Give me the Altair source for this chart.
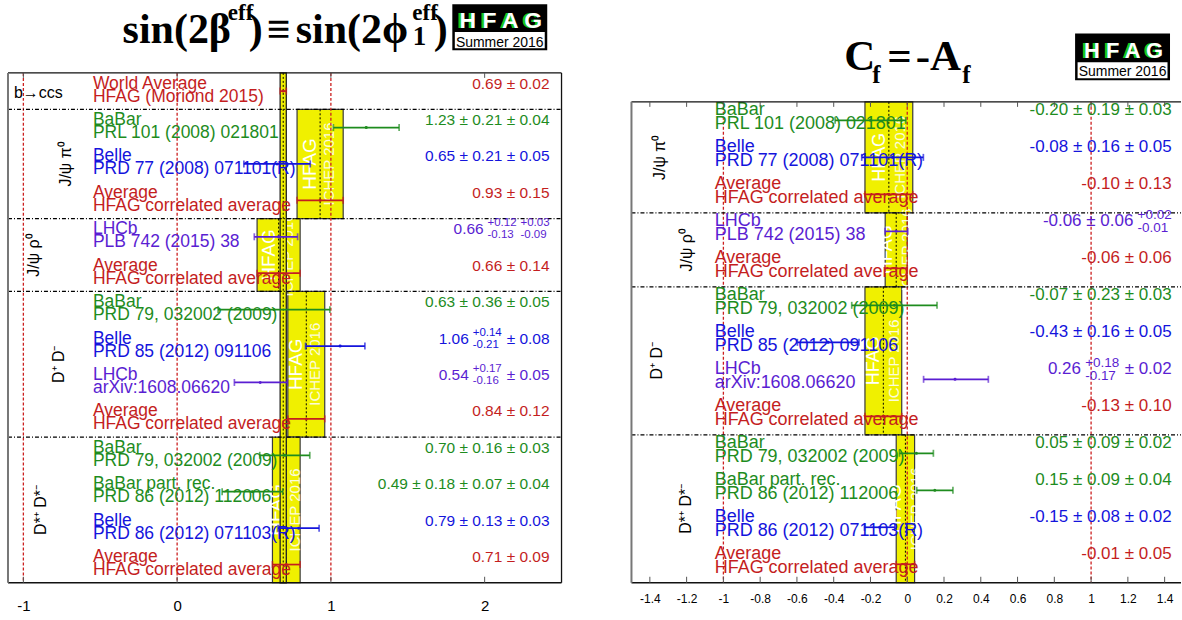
import math
import altair as alt
import pandas as pd

# ---------------- data: left panel  sin(2beta_eff) ----------------
L_sections = ["b→ccs", "J/ψ π⁰", "J/ψ ρ⁰", "D⁺ D⁻", "D*⁺ D*⁻"]
L_sizes = [1, 3, 2, 4, 4]
L_names = ["World Average", "BaBar", "Belle", "Average", "LHCb", "Average",
           "BaBar", "Belle", "LHCb", "Average",
           "BaBar", "BaBar part. rec.", "Belle", "Average"]
L_refs = ["HFAG (Moriond 2015)", "PRL 101 (2008) 021801", "PRD 77 (2008) 071101(R)",
          "HFAG correlated average", "PLB 742 (2015) 38", "HFAG correlated average",
          "PRD 79, 032002 (2009)", "PRD 85 (2012) 091106", "arXiv:1608.06620",
          "HFAG correlated average", "PRD 79, 032002 (2009)", "PRD 86 (2012) 112006",
          "PRD 86 (2012) 071103(R)", "HFAG correlated average"]
L_values = [0.69, 1.23, 0.65, 0.93, 0.66, 0.66, 0.63, 1.06, 0.54, 0.84, 0.70, 0.49, 0.79, 0.71]
L_errors = [[0.02], [0.21, 0.04], [0.21, 0.05], [0.15], [(0.12, 0.13), (0.03, 0.09)], [0.14],
            [0.36, 0.05], [(0.14, 0.21), 0.08], [(0.17, 0.16), 0.05], [0.12],
            [0.16, 0.03], [0.18, 0.07, 0.04], [0.13, 0.03], [0.09]]
L_ticks = [-1, 0, 1, 2]
L_reflines = [-1, 0, 1]

# ---------------- data: right panel  C_f = -A_f ----------------
R_sections = ["J/ψ π⁰", "J/ψ ρ⁰", "D⁺ D⁻", "D*⁺ D*⁻"]
R_sizes = [3, 2, 4, 4]
R_names = ["BaBar", "Belle", "Average", "LHCb", "Average",
           "BaBar", "Belle", "LHCb", "Average",
           "BaBar", "BaBar part. rec.", "Belle", "Average"]
R_refs = ["PRL 101 (2008) 021801", "PRD 77 (2008) 071101(R)", "HFAG correlated average",
          "PLB 742 (2015) 38", "HFAG correlated average",
          "PRD 79, 032002 (2009)", "PRD 85 (2012) 091106", "arXiv:1608.06620",
          "HFAG correlated average", "PRD 79, 032002 (2009)", "PRD 86 (2012) 112006",
          "PRD 86 (2012) 071103(R)", "HFAG correlated average"]
R_values = [-0.20, -0.08, -0.10, -0.06, -0.06, -0.07, -0.43, 0.26, -0.13, 0.05, 0.15, -0.15, -0.01]
R_errors = [[0.19, 0.03], [0.16, 0.05], [0.13], [0.06, (0.02, 0.01)], [0.06],
            [0.23, 0.03], [0.16, 0.05], [(0.18, 0.17), 0.02], [0.10],
            [0.09, 0.02], [0.09, 0.04], [0.08, 0.02], [0.05]]
R_ticks = [-1.4, -1.2, -1.0, -0.8, -0.6, -0.4, -0.2, 0.0, 0.2, 0.4, 0.6, 0.8, 1.0, 1.2, 1.4]
R_reflines = [-1, 0, 1]

# ---------------- styles ----------------
FONT = "Liberation Sans"
SERIF = "Liberation Serif"
COLORS = {"BaBar": "#1e8c1e", "BaBar part. rec.": "#1e8c1e", "Belle": "#1414dc",
          "LHCb": "#5a1ed2", "Average": "#c41e1e", "World Average": "#c41e1e"}
YELLOW = "#f0f000"
REDLINE = "#cc2020"
LOGO_GREEN = "#19c819"

L_cfg = dict(xdomain=[-1.1, 2.5], width=554, height=583, ytop=72.7,
             name_x=85, name_fs=17.5, name_dy=-7.5, ref_dy=5.5,
             val_right=542, val_fs=15.5, small_fs=11.5, val_dy=-7.5, stack_off=6,
             group_px=[6, 58, 26, 51, 33], group_rot=[False, True, True, True, True], group_fs=16,
             axis_fs=15, axis_pad=16, right_border=True,
             hfag_fs=19, ichep_fs=15, hfag_dy=-10, ichep_dy=9,
             title=[("sin(2β", 42, 114.7, 43), ("eff", 23, 220, 20), (")", 42, 241, 43),
                    ("≡", 42, 259, 43), ("sin(2ϕ", 42, 288, 43), ("1", 27, 405, 45),
                    ("eff", 23, 404.7, 20), (")", 42, 426, 43)],
             logo=dict(x1=444.7, x2=539.7, y1=4, y2=50, ysplit=31.7, hfag_fs=23, hfag_y=28,
                       summer_fs=14, summer_y=46.5))

R_cfg = dict(xdomain=[-1.5, 1.489], width=550, height=583, ytop=101.7,
             name_x=83.3, name_fs=18, name_dy=-10.5, ref_dy=4,
             val_right=540.7, val_fs=17, small_fs=13.5, val_dy=-10, stack_off=6.5,
             group_px=[29, 56, 26, 55], group_rot=[True, True, True, True], group_fs=16,
             axis_fs=12, axis_pad=11, right_border=False,
             hfag_fs=18, ichep_fs=15, hfag_dy=-9, ichep_dy=11,
             title=[("C", 43, 213, 70), ("f", 25, 241, 83), ("=", 43, 256, 70),
                    ("-A", 43, 284.5, 70), ("f", 25, 331, 83)],
             logo=dict(x1=444, x2=539, y1=33.3, y2=80, ysplit=62, hfag_fs=22, hfag_y=58,
                       summer_fs=14, summer_y=76))

ARIAL = {c: 0.556 for c in "0123456789"}
ARIAL.update({".": 0.278, " ": 0.278, "±": 0.584, "+": 0.584, "-": 0.333})


def tw(s, fs):
    return sum(ARIAL.get(c, 0.556) for c in s) * fs


def value_layout(val, errs, right, fs, sfs):
    pieces = []
    cur = f"{val:.2f}"
    for e in errs:
        if isinstance(e, tuple):
            pieces.append(("main", cur))
            cur = ""
            pieces.append(("stack", f"+{e[0]:.2f}", f"-{e[1]:.2f}"))
        else:
            cur += f" ± {e:.2f}"
    if cur:
        pieces.append(("main", cur))
    mains, stacks = [], []
    x = right
    for p in reversed(pieces):
        if p[0] == "main":
            mains.append((x, p[1].strip()))
            x -= tw(p[1], fs)
        else:
            w = max(tw(p[1], sfs), tw(p[2], sfs))
            x -= w
            stacks.append((x, p[1], p[2]))
            x -= 0.25 * fs
    return mains, stacks


def build_panel(sections, sizes, names, refs, values, errors, ticks, reflines, cfg):
    N = sum(sizes)
    x0, x1 = cfg["xdomain"]
    W, H = cfg["width"], cfg["height"]

    def px2x(p):
        return x0 + p / W * (x1 - x0)

    xs = alt.Scale(domain=[x0, x1], nice=False, zero=False)
    ys = alt.Scale(domain=[0, N], range=[cfg["ytop"], H], nice=False, zero=False)
    xaxis = alt.Axis(values=ticks, ticks=False, domain=False, grid=False,
                     labelFontSize=cfg["axis_fs"], labelPadding=cfg["axis_pad"],
                     labelFont=FONT, labelColor="black",
                     labelExpr="datum.value < 0 ? '-' + format(-datum.value, '~g') : format(datum.value, '~g')")

    def X(f):
        return alt.X(f, type="quantitative", scale=xs, axis=xaxis, title=None)

    def Y(f):
        return alt.Y(f, type="quantitative", scale=ys, axis=None, title=None)

    rows, bands, caps, mains, stacks, groups = [], [], [], [], [], []
    wa = None
    idx = 0
    seps = []
    for si, (s, n) in enumerate(zip(sections, sizes)):
        start = idx
        groups.append(dict(label=s, y=start + n / 2, x=px2x(cfg["group_px"][si]),
                           rot=cfg["group_rot"][si]))
        for k in range(n):
            nm, rf, v, er = names[idx], refs[idx], values[idx], errors[idx]
            up = math.sqrt(sum((e[0] if isinstance(e, tuple) else e) ** 2 for e in er))
            dn = math.sqrt(sum((e[1] if isinstance(e, tuple) else e) ** 2 for e in er))
            col = COLORS[nm]
            rows.append(dict(y=idx + 0.5, name=nm, ref=rf, val=v, lo=v - dn, hi=v + up, color=col))
            caps.append(dict(y=idx + 0.5, xc=v - dn, color=col))
            caps.append(dict(y=idx + 0.5, xc=v + up, color=col))
            if nm == "Average":
                bands.append(dict(lo=v - dn, hi=v + up, val=v, y1=start, y2=start + n, ym=start + n / 2))
            if nm == "World Average":
                wa = dict(lo=v - dn, hi=v + up, val=v, y1=0, y2=N)
            m, st = value_layout(v, er, cfg["val_right"], cfg["val_fs"], cfg["small_fs"])
            for (px, t) in m:
                mains.append(dict(y=idx + 0.5, xd=px2x(px), text=t, color=col))
            for (px, a, b) in st:
                stacks.append(dict(y=idx + 0.5, xd=px2x(px), top=a, bot=b, color=col))
            idx += 1
        if idx < N:
            seps.append(dict(y=idx, xa=x0, xb=x1))

    rdf = pd.DataFrame(rows)
    bdf = pd.DataFrame(bands)
    cdf = pd.DataFrame(caps)
    mdf = pd.DataFrame(mains)
    sdf = pd.DataFrame(stacks)
    gdf = pd.DataFrame(groups)
    sepdf = pd.DataFrame(seps)
    refdf = pd.DataFrame(dict(x=reflines, y1=[0] * len(reflines), y2=[N] * len(reflines)))
    tickdf = pd.DataFrame(dict(t=ticks))
    one = pd.DataFrame(dict(k=[0]))
    col = alt.Color("color:N", scale=None)

    layers = []
    # average bands
    layers.append(alt.Chart(bdf).mark_rect(fill=YELLOW, stroke="#3a3a3a", strokeWidth=1.2).encode(
        x=X("lo"), x2=alt.X2("hi"), y=Y("y1"), y2=alt.Y2("y2")))
    layers.append(alt.Chart(bdf).mark_rule(color="black", strokeDash=[2, 2], strokeWidth=1).encode(
        x=X("val"), y=Y("y1"), y2=alt.Y2("y2")))
    layers.append(alt.Chart(bdf).mark_text(text="HFAG", angle=270, color="white", font=FONT,
                                           fontSize=cfg["hfag_fs"], align="center", baseline="middle",
                                           dy=cfg["hfag_dy"]).encode(x=X("val"), y=Y("ym")))
    layers.append(alt.Chart(bdf).mark_text(text="ICHEP 2016", angle=270, color="white", font=FONT,
                                           fontSize=cfg["ichep_fs"], align="center", baseline="middle",
                                           opacity=0.85, dy=cfg["ichep_dy"]).encode(x=X("val"), y=Y("ym")))
    # world average band
    if wa is not None:
        wdf = pd.DataFrame([wa])
        layers.append(alt.Chart(wdf).mark_rect(fill=YELLOW, stroke="#222222", strokeWidth=1.3).encode(
            x=X("lo"), x2=alt.X2("hi"), y=Y("y1"), y2=alt.Y2("y2")))
        layers.append(alt.Chart(wdf).mark_rule(color="black", strokeDash=[2, 2], strokeWidth=1).encode(
            x=X("val"), y=Y("y1"), y2=alt.Y2("y2")))
    # reference lines
    layers.append(alt.Chart(refdf).mark_rule(color=REDLINE, strokeDash=[3, 2], strokeWidth=1.3).encode(
        x=X("x"), y=Y("y1"), y2=alt.Y2("y2")))
    # section separators
    layers.append(alt.Chart(sepdf).mark_rule(color="black", strokeDash=[4, 2, 1, 2], strokeWidth=1.2).encode(
        y=Y("y"), x=X("xa"), x2=alt.X2("xb")))
    # measurement bars
    layers.append(alt.Chart(rdf).mark_rule(strokeWidth=1.7).encode(
        x=X("lo"), x2=alt.X2("hi"), y=Y("y"), color=col))
    layers.append(alt.Chart(cdf).mark_tick(orient="vertical", size=7, thickness=1.7).encode(
        x=X("xc"), y=Y("y"), color=col))
    layers.append(alt.Chart(rdf).mark_point(shape="circle", filled=True, size=9, opacity=1).encode(
        x=X("val"), y=Y("y"), color=col))
    # labels
    layers.append(alt.Chart(rdf).mark_text(align="left", baseline="middle", font=FONT,
                                           fontSize=cfg["name_fs"], dy=cfg["name_dy"]).encode(
        x=alt.value(cfg["name_x"]), y=Y("y"), text="name:N", color=col))
    layers.append(alt.Chart(rdf).mark_text(align="left", baseline="middle", font=FONT,
                                           fontSize=cfg["name_fs"], dy=cfg["ref_dy"]).encode(
        x=alt.value(cfg["name_x"]), y=Y("y"), text="ref:N", color=col))
    layers.append(alt.Chart(mdf).mark_text(align="right", baseline="middle", font=FONT,
                                           fontSize=cfg["val_fs"], dy=cfg["val_dy"]).encode(
        x=X("xd"), y=Y("y"), text="text:N", color=col))
    if len(sdf):
        layers.append(alt.Chart(sdf).mark_text(align="left", baseline="middle", font=FONT,
                                               fontSize=cfg["small_fs"],
                                               dy=cfg["val_dy"] - cfg["stack_off"]).encode(
            x=X("xd"), y=Y("y"), text="top:N", color=col))
        layers.append(alt.Chart(sdf).mark_text(align="left", baseline="middle", font=FONT,
                                               fontSize=cfg["small_fs"],
                                               dy=cfg["val_dy"] + cfg["stack_off"]).encode(
            x=X("xd"), y=Y("y"), text="bot:N", color=col))
    # group labels
    g_rot = gdf[gdf["rot"]]
    g_hor = gdf[~gdf["rot"]]
    layers.append(alt.Chart(g_rot).mark_text(angle=270, align="center", baseline="middle", font=FONT,
                                             fontSize=cfg["group_fs"], color="black").encode(
        x=X("x"), y=Y("y"), text="label:N"))
    if len(g_hor):
        layers.append(alt.Chart(g_hor).mark_text(align="left", baseline="middle", font=FONT,
                                                 fontSize=cfg["group_fs"], color="black", dy=1.5).encode(
            x=X("x"), y=Y("y"), text="label:N"))
    # frame
    hdf = pd.DataFrame(dict(y=[0, N], xa=[x0, x0], xb=[x1, x1]))
    layers.append(alt.Chart(hdf).mark_rule(color="#111111", strokeWidth=1.3).encode(
        y=Y("y"), x=X("xa"), x2=alt.X2("xb")))
    vdf = pd.DataFrame(dict(x=[x0], y1=[0], y2=[N]))
    layers.append(alt.Chart(vdf).mark_rule(color="#777777", strokeWidth=2).encode(
        x=X("x"), y=Y("y1"), y2=alt.Y2("y2")))
    if cfg["right_border"]:
        vdf2 = pd.DataFrame(dict(x=[x1], y1=[0], y2=[N]))
        layers.append(alt.Chart(vdf2).mark_rule(color="#111111", strokeWidth=1.3).encode(
            x=X("x"), y=Y("y1"), y2=alt.Y2("y2")))
    # inside ticks
    layers.append(alt.Chart(tickdf).mark_rule(color="#555555", strokeWidth=1).encode(
        x=X("t"), y=alt.value(cfg["ytop"]), y2=alt.value(cfg["ytop"] + 5)))
    layers.append(alt.Chart(tickdf).mark_rule(color="#555555", strokeWidth=1).encode(
        x=X("t"), y=alt.value(H - 6), y2=alt.value(H)))
    # title pieces
    for (t, fs, px, py) in cfg["title"]:
        layers.append(alt.Chart(one).mark_text(text=t, font=SERIF, fontWeight="bold", fontSize=fs,
                                               align="left", baseline="alphabetic", color="black").encode(
            x=alt.value(px), y=alt.value(py)))
    # logo
    lg = cfg["logo"]
    layers.append(alt.Chart(one).mark_rect(color="black").encode(
        x=alt.value(lg["x1"]), x2=alt.value(lg["x2"]), y=alt.value(lg["y1"]), y2=alt.value(lg["y2"])))
    layers.append(alt.Chart(one).mark_rect(color="white").encode(
        x=alt.value(lg["x1"] + 2.5), x2=alt.value(lg["x2"] - 2.5), y=alt.value(lg["ysplit"]),
        y2=alt.value(lg["y2"] - 2)))
    cx = (lg["x1"] + lg["x2"]) / 2
    layers.append(alt.Chart(one).mark_text(text="H F A G", font=FONT, fontWeight="bold",
                                           fontSize=lg["hfag_fs"], align="center", baseline="alphabetic",
                                           color=LOGO_GREEN).encode(
        x=alt.value(cx - 1.5), y=alt.value(lg["hfag_y"])))
    layers.append(alt.Chart(one).mark_text(text="H F A G", font=FONT, fontWeight="bold",
                                           fontSize=lg["hfag_fs"], align="center", baseline="alphabetic",
                                           color="white").encode(
        x=alt.value(cx + 1), y=alt.value(lg["hfag_y"])))
    layers.append(alt.Chart(one).mark_text(text="Summer 2016", font=FONT, fontSize=lg["summer_fs"],
                                           align="center", baseline="alphabetic", color="black").encode(
        x=alt.value(cx), y=alt.value(lg["summer_y"])))

    return alt.layer(*layers).properties(width=W, height=H)


left = build_panel(L_sections, L_sizes, L_names, L_refs, L_values, L_errors, L_ticks, L_reflines, L_cfg)
right = build_panel(R_sections, R_sizes, R_names, R_refs, R_values, R_errors, R_ticks, R_reflines, R_cfg)

chart = alt.hconcat(left, right, spacing=70, bounds="flush").properties(
    padding={"left": 7, "top": 0, "right": 0, "bottom": 0}
).configure_view(stroke=None)

chart.save("out.html", embed_options={"renderer": "svg", "actions": False})
